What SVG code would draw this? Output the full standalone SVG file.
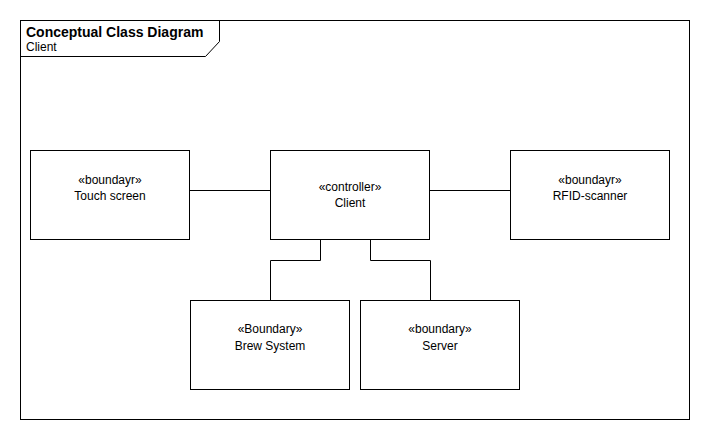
<svg xmlns="http://www.w3.org/2000/svg" width="710" height="440" viewBox="0 0 710 440">
<style>
.box{fill:#fff;stroke:#000;stroke-width:1}
.ln{fill:none;stroke:#000;stroke-width:1}
text{font-family:"Liberation Sans",Arial,sans-serif;font-size:12px;fill:#000}
.c{text-anchor:middle}
.t{font-size:14px}
.b{font-weight:bold}
</style>
<rect width="710" height="440" fill="#fff"/>
<g id="frame">
<rect class="ln" x="20.5" y="20.5" width="669" height="399"/>
<path class="ln" d="M20.5,56.5 H205.5 L219.5,41.5 V20.5"/>
<text class="t b" x="26" y="37">Conceptual Class Diagram</text>
<text x="26" y="51">Client</text>
</g>
<g id="connectors">
<path class="ln" d="M189.5,190.5 H270.5"/>
<path class="ln" d="M429.5,190.5 H510.5"/>
<path class="ln" d="M320.5,239.5 V260.5 H270.5 V300.5"/>
<path class="ln" d="M370.5,239.5 V260.5 H430.5 V300.5"/>
</g>
<g id="touch-screen">
<rect class="box" x="30.5" y="150.5" width="159" height="89"/>
<text class="c" x="110" y="184">«boundayr»</text>
<text class="c" x="110" y="200">Touch screen</text>
</g>
<g id="client">
<rect class="box" x="270.5" y="150.5" width="159" height="89"/>
<text class="c" x="350" y="191">«controller»</text>
<text class="c" x="350" y="207">Client</text>
</g>
<g id="rfid-scanner">
<rect class="box" x="510.5" y="150.5" width="159" height="89"/>
<text class="c" x="590" y="184">«boundayr»</text>
<text class="c" x="590" y="200">RFID-scanner</text>
</g>
<g id="brew-system">
<rect class="box" x="190.5" y="300.5" width="159" height="89"/>
<text class="c" x="270" y="333">«Boundary»</text>
<text class="c" x="270" y="350">Brew System</text>
</g>
<g id="server">
<rect class="box" x="360.5" y="300.5" width="159" height="89"/>
<text class="c" x="440" y="333">«boundary»</text>
<text class="c" x="440" y="350">Server</text>
</g>
</svg>
